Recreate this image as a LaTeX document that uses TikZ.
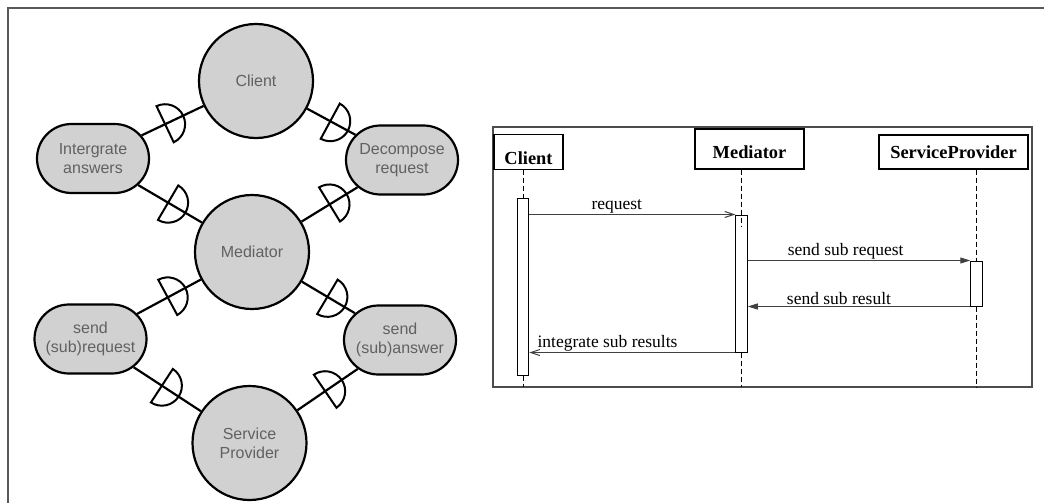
\documentclass[tikz,border=0pt]{standalone}
\usepackage{fontspec}
\setmainfont{Liberation Serif}
\newfontfamily\helv{Liberation Sans}
\usetikzlibrary{arrows.meta, shapes.misc, decorations.markings}

\begin{document}
\begin{tikzpicture}[
    x=0.5pt, y=-0.5pt,
    role/.style={circle, draw, line width=1.1pt, fill=black!18, minimum size=57pt, inner sep=0pt,
        align=center, font=\helv\fontsize{8}{9.5}\selectfont, text=black!62},
    task/.style={rounded rectangle, draw, line width=1.1pt, fill=black!18, minimum width=56pt,
        minimum height=34.5pt, inner sep=0pt, align=center, font=\helv\fontsize{8}{9.5}\selectfont, text=black!62},
    link/.style={line width=1.1pt},
    sock/.style={postaction={decorate, decoration={markings, mark=at position #1 with
        {\draw[line width=1pt] (0,-10pt) arc[start angle=-90, end angle=90, radius=10pt] -- cycle;}}}},
    head/.style={draw, line width=0.7pt, inner sep=0pt, text depth=0pt, font=\bfseries\fontsize{9.2}{10}\selectfont},
    act/.style={draw, fill=white, line width=0.5pt, minimum width=5.75pt, inner sep=0pt},
    lifeline/.style={dashed, dash pattern=on 2.5pt off 1.5pt, line width=0.5pt},
    msg/.style={line width=0.5pt, draw=black!75},
    call/.style={msg, -{Straight Barb[length=4.5pt, width=3pt]}},
    send/.style={msg, -{Triangle[length=5pt, width=3pt]}},
    txt/.style={font=\fontsize{8.75}{10}\selectfont, inner sep=0.5pt, above}
]
\useasboundingbox (0,0) rectangle (1044,503);

% page frame
\draw[black!65, line width=1pt] (8,503) -- (8,8) -- (1044,8);

% Roles and tasks
\node[role] (client) at (256,81) {Client};
\node[task] (integ) at (93,158.5) {Intergrate\\answers};
\node[task] (decomp) at (402,160) {Decompose\\request};
\node[role] (mediator) at (252,252) {Mediator};
\node[task] (sendreq) at (90.5,339) {send\\(sub)request};
\node[task] (sendans) at (400,340) {send\\(sub)answer};
\node[role] (provider) at (249.5,443) {Service\\Provider};

% Links with sockets
\draw[link, sock=0.38] (integ) -- (client);
\draw[link, sock=0.48] (client) -- (decomp);
\draw[link, sock=0.47] (integ) -- (mediator);
\draw[link, sock=0.5] (mediator) -- (decomp);
\draw[link, sock=0.48] (sendreq) -- (mediator);
\draw[link, sock=0.48] (mediator) -- (sendans);
\draw[link, sock=0.42] (sendreq) -- (provider);
\draw[link, sock=0.46] (provider) -- (sendans);

% Sequence frame
\draw[black!70, line width=0.6pt] (493,127) rectangle (1032,387);
\coordinate (fbot) at (0,387);

% Lifeline heads
\node[head, minimum width=34.5pt, minimum height=17.5pt, text height=12.7pt] (lclient) at (528.5,151.7) {Client};
\node[head, minimum width=54.5pt, minimum height=20pt, text height=9.2pt] (lmed) at (749.5,149) {Mediator};
\node[head, minimum width=74.5pt, minimum height=17pt, text height=6.2pt] (lprov) at (953.5,152) {ServiceProvider};

% Activations
\node[act, minimum height=88.5pt] (actc) at (523,286.5) {};
\node[act, minimum height=68.5pt] (actm) at (741.5,283.5) {};
\node[act, minimum height=22.5pt] (actp) at (976.5,283.5) {};

\draw[lifeline] (lclient.south -| actc.north) -- (actc.north);
\draw[lifeline] (actc.south) -- (actc.south |- fbot);
\draw[lifeline] (lmed.south -| actm.north) -- ([yshift=-6pt]actm.north);
\draw[lifeline] (actm.south) -- (actm.south |- fbot);
\draw[lifeline] (lprov.south -| actp.north) -- (actp.north);
\draw[lifeline] (actp.south) -- (actp.south |- fbot);

% Messages
\draw[call] (actc.east |- actm.north west) -- node[txt, pos=0.425] {request} (actm.north west);
\draw[send] (actm.east |- actp.north west) -- node[txt, pos=0.44] {send sub request} (actp.north west);
\draw[send] (actp.south west) -- node[txt, pos=0.59] {send sub result} (actm.east |- actp.south west);
\draw[call] (actm.south west) -- node[txt, pos=0.62] {integrate sub results} (actc.east |- actm.south west);

\end{tikzpicture}
\end{document}
